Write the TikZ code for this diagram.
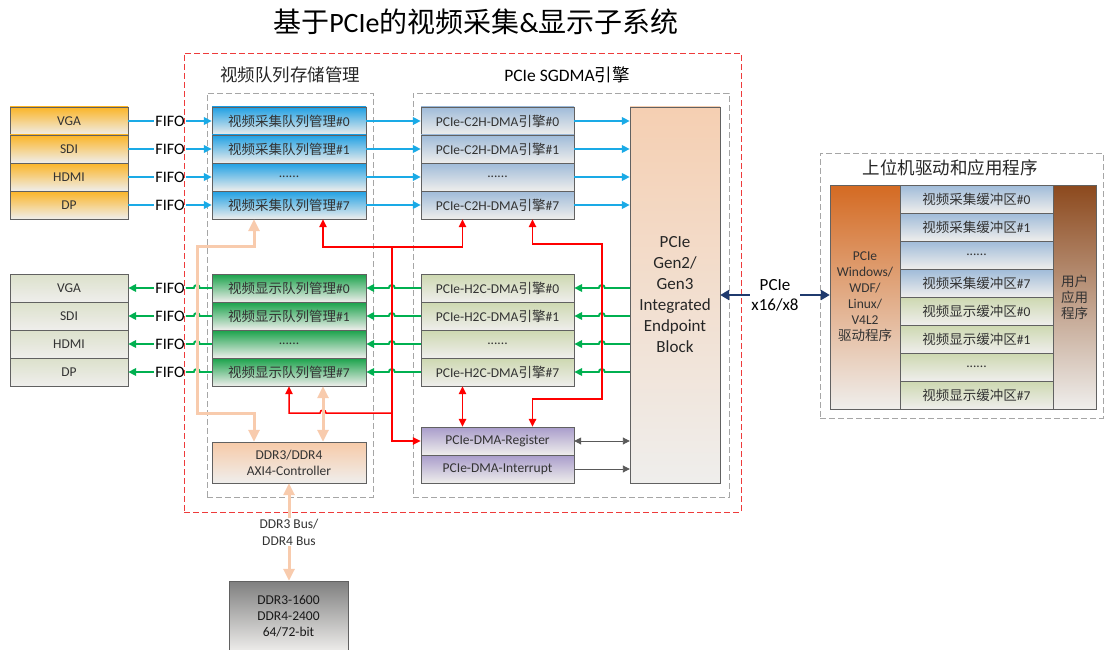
\documentclass[tikz,border=0pt]{standalone}
\usepackage{fontspec}
\setmainfont{Carlito}
\newfontfamily\zh{Noto Sans CJK SC}
\usetikzlibrary{arrows.meta,positioning,calc}

\newcommand\sixdots{......}

\definecolor{srcTop}{HTML}{FBB527}
\definecolor{capTop}{HTML}{1FA0E4}
\definecolor{c2hTop}{HTML}{9FBBD9}
\definecolor{dstTop}{HTML}{DCE1CB}
\definecolor{dspTop}{HTML}{19A24A}
\definecolor{h2cTop}{HTML}{CDD8B0}
\definecolor{pcieTop}{HTML}{F5CFB2}
\definecolor{regTop}{HTML}{A99CCB}
\definecolor{ctrlTop}{HTML}{F7CAA8}
\definecolor{memTop}{HTML}{7F7F7F}
\definecolor{drvTop}{HTML}{D46A22}
\definecolor{usrTop}{HTML}{8C491D}
\definecolor{boxBot}{HTML}{EFEEEC}
\definecolor{capLine}{HTML}{1AAAE6}
\definecolor{dspLine}{HTML}{00B050}
\definecolor{ctlLine}{HTML}{FF0000}
\definecolor{memLine}{HTML}{F8CBAD}
\definecolor{busLine}{HTML}{1F3A6E}
\definecolor{grpLine}{HTML}{A6A6A6}
\definecolor{sysLine}{HTML}{EE3B3B}

\tikzset{
    cell/.style={draw=black!62, inner sep=0pt, align=center, text=black!80,
        font=\fontsize{13.5}{16}\selectfont, bottom color=boxBot},
    row/.style={cell, minimum width=154pt, minimum height=28pt},
    srcbox/.style={cell, minimum width=118pt, minimum height=28pt, top color=srcTop},
    dstbox/.style={cell, minimum width=118pt, minimum height=28pt, top color=dstTop},
    capbox/.style={row, top color=capTop},
    dspbox/.style={row, top color=dspTop},
    c2hbox/.style={row, minimum width=153pt, top color=c2hTop},
    h2cbox/.style={row, minimum width=153pt, top color=h2cTop},
    regbox/.style={row, minimum width=153pt, top color=regTop},
    capbuf/.style={row, minimum width=153pt, top color=c2hTop},
    dspbuf/.style={row, minimum width=153pt, top color=h2cTop},
    fifo/.style={inner sep=1pt, font=\fontsize{16}{18}\selectfont},
    grpbox/.style={draw=grpLine, dash pattern=on 6pt off 3pt, thick},
    sysbox/.style={draw=sysLine, dash pattern=on 6pt off 3pt, thick},
    grptitle/.style={font=\fontsize{17.5}{20}\selectfont, text=black!85},
    capflow/.style={draw=capLine, line width=1.9pt},
    dspflow/.style={draw=dspLine, line width=1.9pt},
    ctlflow/.style={draw=ctlLine, line width=1.5pt},
    memflow/.style={draw=memLine, line width=3pt, >={Triangle[length=12pt,width=11pt]}},
    busflow/.style={draw=busLine, line width=2.4pt, >={Triangle[length=9pt,width=10pt]}},
    regflow/.style={draw=black!65, line width=0.9pt, >={Triangle[length=7pt,width=7pt]}}
}

\begin{document}
\begin{tikzpicture}[x=1pt, y=-1pt, >={Triangle[length=8pt,width=7.5pt]}]
    \useasboundingbox (0,0) rectangle (1105,650);

    \node[font=\fontsize{28}{32}\selectfont] (title) at (476,22) {{\zh 基于}PCIe{\zh 的视频采集}\&{\zh 显示子系统}};

    % group frames
    \node[sysbox, minimum width=557pt, minimum height=459pt] (sys) at (462.5,282.5) {};
    \node[grpbox, minimum width=166pt, minimum height=404pt] (grpQueue) at (290,295) {};
    \node[grpbox, minimum width=316pt, minimum height=404pt] (grpDma) at (571,295) {};
    \node[grpbox, minimum width=283pt, minimum height=265pt] (grpHost) at (961.5,285.5) {};
    \node[grptitle] (tQueue) at (290,75) {\zh 视频队列存储管理};
    \node[grptitle, text=black] (tDma) at (567,75) {PCIe SGDMA{\zh 引擎}};
    \node[grptitle] (tHost) at (950,168) {\zh 上位机驱动和应用程序};

    \node[cell, minimum width=90pt, minimum height=376pt, top color=pcieTop, text=black!85,
        font=\fontsize{17}{21}\selectfont] (pcie) at (675,295) {PCIe\\Gen2/\\Gen3\\Integrated\\Endpoint\\Block};

    % capture path
    \foreach \i/\y/\src/\q/\e in {0/121/VGA/{{\zh 视频采集队列管理}\#0}/{PCIe-C2H-DMA{\zh 引擎}\#0},
                                  1/149/SDI/{{\zh 视频采集队列管理}\#1}/{PCIe-C2H-DMA{\zh 引擎}\#1},
                                  2/177/HDMI/\sixdots/\sixdots,
                                  3/205/DP/{{\zh 视频采集队列管理}\#7}/{PCIe-C2H-DMA{\zh 引擎}\#7}} {
        \node[srcbox] (in\i) at (69,\y) {\src};
        \node[fifo] (fi\i) at (170,\y) {FIFO};
        \node[capbox] (cq\i) at (289,\y) {\q};
        \node[c2hbox] (c2h\i) at (497.5,\y) {\e};
        \draw[capflow] (in\i.east) -- (fi\i.west);
        \draw[capflow,->] (fi\i.east) -- (cq\i.west);
        \draw[capflow,->] (cq\i.east) -- (c2h\i.west);
        \draw[capflow,->] (c2h\i.east) -- (c2h\i.east -| pcie.west);
    }

    % display path
    \foreach \i/\y/\dst/\q/\e in {0/288/VGA/{{\zh 视频显示队列管理}\#0}/{PCIe-H2C-DMA{\zh 引擎}\#0},
                                  1/316/SDI/{{\zh 视频显示队列管理}\#1}/{PCIe-H2C-DMA{\zh 引擎}\#1},
                                  2/344/HDMI/\sixdots/\sixdots,
                                  3/372/DP/{{\zh 视频显示队列管理}\#7}/{PCIe-H2C-DMA{\zh 引擎}\#7}} {
        \node[dstbox] (out\i) at (69,\y) {\dst};
        \node[fifo] (fo\i) at (170,\y) {FIFO};
        \node[dspbox] (dq\i) at (289,\y) {\q};
        \node[h2cbox] (h2c\i) at (497.5,\y) {\e};
        \draw[dspflow,->] (h2c\i.east -| pcie.west) -- ++(-25,0) arc(0:180:3pt) -- (h2c\i.east);
        \draw[dspflow,->] (h2c\i.west) -- ++(-26,0) arc(0:180:3pt) -- (dq\i.east);
        \draw[dspflow] (dq\i.west) -- ++(-12,0) arc(0:180:3pt) -- (fo\i.east);
        \draw[dspflow,->] (fo\i.west) -- (out\i.east);
    }

    \node[regbox] (reg) at (497.5,441) {PCIe-DMA-Register};
    \node[regbox] (irq) at (497.5,469) {PCIe-DMA-Interrupt};
    \node[cell, minimum width=154pt, minimum height=41pt, top color=ctrlTop] (ctrl) at (289,462.5) {DDR3/DDR4\\AXI4-Controller};
    \node[cell, minimum width=119pt, minimum height=71pt, top color=memTop, text=black!90] (mem) at (288.5,616.5) {DDR3-1600\\DDR4-2400\\64/72-bit};

    % control bus
    \coordinate (rbus) at (392,247);
    \coordinate (rjoin) at (392,413);
    \coordinate (rloopA) at (602,399);
    \coordinate (rloopB) at (602,244);
    \draw[ctlflow,->] (rbus) |- (reg.west);
    \draw[ctlflow,->] (rbus) -| ([xshift=34pt]cq3.south);
    \draw[ctlflow,->] (rbus) -| ([xshift=-35pt]c2h3.south);
    \draw[ctlflow,->] (rjoin) -- ([xshift=37pt]dq3.south |- rjoin) arc(0:180:3pt) -- (dq3.south |- rjoin) -- (dq3.south);
    \draw[ctlflow,<->] ([xshift=-35pt]h2c3.south) -- ([xshift=-35pt]reg.north);
    \draw[ctlflow,<->] ([xshift=35pt]reg.north) |- (rloopA) -- (rloopB) -| ([xshift=35pt]c2h3.south);

    % memory traffic
    \coordinate (pkA) at (197,246);
    \coordinate (pkB) at (197,413);
    \draw[memflow,<->] ([xshift=-35pt]cq3.south) |- (pkA) -- (pkB) -| ([xshift=-35pt]ctrl.north);
    \draw[memflow,<->] ([xshift=34pt]dq3.south) -- ([xshift=34pt]ctrl.north);
    \draw[memflow,<->] (ctrl.south) -- node[fill=white, inner sep=1pt, text=black!80, align=center,
        font=\fontsize{13.5}{17}\selectfont] (ddrbus) {DDR3 Bus/\\DDR4 Bus} (ctrl.south |- mem.north);

    \draw[regflow,<->] (reg.east) -- (reg.east -| pcie.west);
    \draw[regflow,->] (irq.east) -- (irq.east -| pcie.west);

    % host side
    \node[cell, minimum width=70pt, minimum height=224pt, top color=drvTop] (drv) at (865,297) {PCIe\\Windows/\\WDF/\\Linux/\\V4L2\\{\zh 驱动程序}};
    \foreach \i/\lab in {0/\#0, 1/\#1, 3/\#7} {
        \node[capbuf] (cb\i) at (976.5,199+28*\i) {{\zh 视频采集缓冲区}\lab};
        \node[dspbuf] (db\i) at (976.5,311+28*\i) {{\zh 视频显示缓冲区}\lab};
    }
    \node[capbuf] (cb2) at (976.5,255) {\sixdots};
    \node[dspbuf] (db2) at (976.5,367) {\sixdots};
    \node[cell, minimum width=43pt, minimum height=224pt, top color=usrTop] (usr) at (1074.5,297) {{\zh 用户}\\{\zh 应用}\\{\zh 程序}};

    \draw[busflow,<->] (pcie.east) -- node[fill=white, inner sep=1pt, align=center,
        font=\fontsize{17}{20}\selectfont] (buslab) {PCIe\\x16/x8} (pcie.east -| drv.west);
\end{tikzpicture}
\end{document}
